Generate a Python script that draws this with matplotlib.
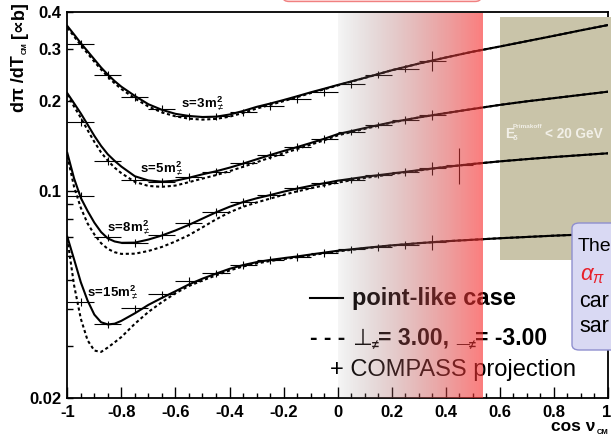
import numpy as np
import matplotlib
matplotlib.use("Agg")
import matplotlib.pyplot as plt
from matplotlib.patches import FancyBboxPatch, Rectangle
from matplotlib.lines import Line2D
from matplotlib.ticker import FixedLocator, FixedFormatter
from matplotlib.transforms import ScaledTranslation

plt.rcParams['font.family'] = ['Liberation Sans', 'DejaVu Sans']
plt.rcParams['mathtext.fontset'] = 'custom'
plt.rcParams['mathtext.rm'] = 'Liberation Sans'
plt.rcParams['mathtext.it'] = 'Liberation Sans:italic'
plt.rcParams['mathtext.bf'] = 'Liberation Sans:bold'

# ---------------- data ----------------
cos_theta = [-1.0, -0.975, -0.95, -0.925, -0.9, -0.875, -0.85, -0.825, -0.8,
             -0.75, -0.7, -0.65, -0.6, -0.55, -0.5, -0.45, -0.4, -0.35, -0.3,
             -0.25, -0.2, -0.15, -0.1, -0.05, 0.0, 0.1, 0.2, 0.3, 0.4, 0.5,
             0.6, 0.7, 0.8, 0.9, 1.0]

# point-like pion
point_s3 = [0.359, 0.336, 0.314, 0.295, 0.277, 0.260, 0.246, 0.234, 0.224,
            0.2085, 0.1955, 0.1872, 0.1815, 0.1785, 0.177, 0.1775, 0.1805,
            0.1855, 0.1915, 0.1965, 0.202, 0.208, 0.2144, 0.2205, 0.227,
            0.240, 0.2545, 0.268, 0.281, 0.294, 0.306, 0.319, 0.3325, 0.347,
            0.3615]
point_s5 = [0.213, 0.197, 0.182, 0.167, 0.153, 0.1415, 0.1325, 0.126, 0.1205,
            0.1118, 0.1082, 0.1072, 0.1080, 0.1105, 0.1135, 0.1162, 0.1195,
            0.1233, 0.1275, 0.1318, 0.1360, 0.1402, 0.1447, 0.1495, 0.1550,
            0.1625, 0.1700, 0.1765, 0.1825, 0.1885, 0.1945, 0.2000, 0.2050,
            0.2102, 0.2155]
point_s8 = [0.134, 0.110, 0.0945, 0.0854, 0.0780, 0.0725, 0.0690, 0.0674,
            0.0667, 0.0668, 0.0684, 0.0706, 0.0734, 0.0767, 0.0805, 0.0845,
            0.0882, 0.0915, 0.0942, 0.0966, 0.0992, 0.1016, 0.1038, 0.1059,
            0.1080, 0.1113, 0.1142, 0.1172, 0.1202, 0.1230, 0.1255, 0.1277,
            0.1298, 0.1317, 0.1336]
point_s15 = [0.0699, 0.0587, 0.0491, 0.0426, 0.0382, 0.0360, 0.0354, 0.0356,
             0.0364, 0.0386, 0.0412, 0.0435, 0.0458, 0.0483, 0.0505, 0.0525,
             0.0545, 0.0561, 0.0574, 0.0584, 0.0592, 0.0600, 0.0609, 0.0618,
             0.0627, 0.0641, 0.0654, 0.0665, 0.0675, 0.0683, 0.0691, 0.0698,
             0.0705, 0.0711, 0.0717]

# alpha_pi = 3.00, beta_pi = -3.00
polar_s3 = [0.354, 0.331, 0.309, 0.290, 0.272, 0.256, 0.242, 0.230, 0.220,
            0.2045, 0.1920, 0.1835, 0.1780, 0.1748, 0.1735, 0.1745, 0.1775,
            0.1828, 0.1890, 0.1945, 0.2003, 0.2066, 0.2132, 0.2196, 0.2262,
            0.2397, 0.2545, 0.268, 0.281, 0.294, 0.306, 0.319, 0.3325, 0.347,
            0.3615]
polar_s5 = [0.211, 0.192, 0.176, 0.160, 0.146, 0.1345, 0.1262, 0.1195, 0.1145,
            0.1070, 0.1037, 0.1030, 0.1040, 0.1068, 0.1098, 0.1128, 0.1163,
            0.1203, 0.1246, 0.1292, 0.1336, 0.1381, 0.1428, 0.1478, 0.1535,
            0.1615, 0.1695, 0.1765, 0.1825, 0.1885, 0.1945, 0.2000, 0.2050,
            0.2102, 0.2155]
polar_s8 = [0.131, 0.103, 0.0875, 0.0775, 0.0712, 0.0665, 0.0636, 0.0620,
            0.0612, 0.0613, 0.0626, 0.0646, 0.0674, 0.0708, 0.0752, 0.0800,
            0.0845, 0.0882, 0.0912, 0.0940, 0.0968, 0.0994, 0.1018, 0.1042,
            0.1064, 0.1103, 0.1136, 0.1169, 0.1202, 0.1230, 0.1255, 0.1277,
            0.1298, 0.1317, 0.1336]
polar_s15 = [0.0690, 0.0480, 0.0370, 0.0313, 0.0289, 0.0286, 0.0296, 0.0308,
             0.0321, 0.0356, 0.0390, 0.0421, 0.0451, 0.0477, 0.0498, 0.0518,
             0.0538, 0.0555, 0.0568, 0.0579, 0.0588, 0.0596, 0.0605, 0.0615,
             0.0624, 0.0639, 0.0653, 0.0665, 0.0675, 0.0683, 0.0691, 0.0698,
             0.0705, 0.0711, 0.0717]

# COMPASS projection: bins of width 0.1
bin_centers = [-0.95, -0.85, -0.75, -0.65, -0.55, -0.45, -0.35, -0.25, -0.15,
               -0.05, 0.05, 0.15, 0.25, 0.35, 0.45]
bin_half_width = 0.05
proj_s3 = [0.312, 0.245, 0.207, 0.188, 0.178, 0.178, 0.1835, 0.1926, 0.2036,
           0.2155, 0.228, 0.246, 0.258, 0.274]
proj_s5 = [0.1707, 0.1262, 0.1086, 0.1072, 0.1114, 0.116, 0.1235, 0.132,
           0.140, 0.149, 0.158, 0.1665, 0.1729, 0.1798]
proj_s8 = [0.0959, 0.0696, 0.0667, 0.0709, 0.0776, 0.0847, 0.0917, 0.0966,
           0.1018, 0.1058, 0.1086, 0.1128, 0.1158, 0.1189, 0.1220]
proj_s15 = [0.0422, 0.0354, 0.0401, 0.0447, 0.0496, 0.0526, 0.0562, 0.0584,
            0.0599, 0.0618, 0.0634, 0.0644, 0.0655, 0.0670]
# relative statistical uncertainties
relerr_s3 = [0.03, 0.03, 0.03, 0.03, 0.03, 0.03, 0.03, 0.03, 0.03, 0.03,
             0.025, 0.025, 0.03, 0.08]
relerr_s5 = [0.03, 0.03, 0.03, 0.03, 0.03, 0.03, 0.03, 0.03, 0.03, 0.03,
             0.025, 0.025, 0.03, 0.04]
relerr_s8 = [0.03, 0.03, 0.03, 0.03, 0.03, 0.03, 0.03, 0.03, 0.03, 0.03,
             0.025, 0.025, 0.03, 0.05, 0.14]
relerr_s15 = [0.03, 0.03, 0.03, 0.03, 0.03, 0.03, 0.03, 0.03, 0.03, 0.03,
              0.025, 0.025, 0.03, 0.055]

x_ticks = [-1, -0.8, -0.6, -0.4, -0.2, 0, 0.2, 0.4, 0.6, 0.8, 1]
x_ticklabels = ['-1', '-0.8', '-0.6', '-0.4', '-0.2', '0', '0.2', '0.4',
                '0.6', '0.8', '1']
y_minor = [0.02, 0.03, 0.04, 0.05, 0.06, 0.07, 0.08, 0.09, 0.2, 0.3, 0.4]
y_minor_labels = ['0.02', '', '', '', '', '', '', '', '0.2', '0.3', '0.4']

curve_labels = ['3', '5', '8', '15']
fade_end = 0.536      # right edge of the shaded cos(theta) band

# ---------------- figure ----------------
W, H = 611, 438
fig = plt.figure(figsize=(W / 100, H / 100), dpi=100)
fig.patch.set_facecolor('white')
renderer = fig.canvas.get_renderer()


def fx(px):
    return px / W


def fy(py):
    return 1 - py / H


ax_l, ax_r, ax_t, ax_b = 67.3, 608.0, 12.0, 398.0
ax = fig.add_axes([fx(ax_l), fy(ax_b), (ax_r - ax_l) / W, (ax_b - ax_t) / H])
ax.set_xlim(-1, 1)
ax.set_yscale('log')
ax.set_ylim(0.02, 0.4)

for sp in ax.spines.values():
    sp.set_linewidth(1.3)
ax.spines['right'].set_zorder(0.5)
ax.spines['top'].set_zorder(6)

ax.set_xticks(x_ticks)
ax.set_xticklabels(x_ticklabels)
ax.xaxis.set_minor_locator(FixedLocator(np.arange(-1, 1.0001, 0.05)))
ax.yaxis.set_major_locator(FixedLocator([0.1]))
ax.yaxis.set_major_formatter(FixedFormatter(['0.1']))
ax.yaxis.set_minor_locator(FixedLocator(y_minor))
ax.yaxis.set_minor_formatter(FixedFormatter(y_minor_labels))
ax.tick_params(which='both', direction='in', top=False, right=False,
               width=1.0, labelsize=12)
ax.tick_params(axis='x', which='major', length=8, pad=5)
ax.tick_params(axis='x', which='minor', length=3.6)
ax.tick_params(axis='y', which='major', length=8.6, pad=4)
ax.tick_params(axis='y', which='minor', length=4.3, pad=4)
for lab in ax.get_xticklabels() + ax.get_yticklabels(which='both'):
    lab.set_fontweight('bold')
last = ax.get_xticklabels()[-1]
last.set_horizontalalignment('right')
last.set_transform(last.get_transform()
                   + ScaledTranslation(3 / 100, 0, fig.dpi_scale_trans))

# olive "E < 20 GeV" panel (behind the curves)
ax.add_patch(Rectangle((fx(500), fy(260)), fx(613) - fx(500), fy(17) - fy(260),
                       transform=fig.transFigure, facecolor='#c9c4a9',
                       edgecolor='none', zorder=1, clip_on=False))
ax.text(fx(505), fy(138.5), 'E', transform=fig.transFigure, color='#f2f0e8',
        fontsize=10, fontweight='bold', zorder=1.2)
ax.text(fx(513), fy(140.5), 'δ', transform=fig.transFigure, color='#f2f0e8',
        fontsize=5.5, fontweight='bold', zorder=1.2)
ax.text(fx(513), fy(127.5), 'Primakoff', transform=fig.transFigure,
        color='#f2f0e8', fontsize=4.6, fontweight='bold', zorder=1.2)
ax.text(fx(545), fy(138.5), '< 20 GeV', transform=fig.transFigure,
        color='#f2f0e8', fontsize=9.8, fontweight='bold', zorder=1.2)

# curves
pts = [point_s3, point_s5, point_s8, point_s15]
pol = [polar_s3, polar_s5, polar_s8, polar_s15]
for p, q in zip(pts, pol):
    ax.plot(cos_theta, p, color='black', lw=1.5, zorder=3,
            solid_joinstyle='round')
    ax.plot(cos_theta, q, color='black', lw=1.5, ls=(0, (1.5, 1.3)), zorder=3)

# projected measurement
projs = [proj_s3, proj_s5, proj_s8, proj_s15]
errs = [relerr_s3, relerr_s5, relerr_s8, relerr_s15]
for v, e in zip(projs, errs):
    n = len(v)
    vv = np.array(v)
    ax.errorbar(bin_centers[:n], vv, xerr=bin_half_width, yerr=vv * np.array(e),
                fmt='none', ecolor='black', elinewidth=0.8, capsize=0,
                zorder=3.5)

# curve labels
label_pos = [(181, 107), (140, 172.7), (107, 231.7), (87, 296)]
for s, (px, py) in zip(curve_labels, label_pos):
    ax.text(fx(px), fy(py), r'$\mathbf{s\!=\!' + s + r'm}^{\mathbf{2}}_{\neq}$',
            transform=fig.transFigure, fontsize=9.5, zorder=4)


def chain(pieces, x_px, y_px):
    """Write text pieces one after another, left to right on one baseline."""
    x = x_px
    for txt, kw, dy in pieces:
        t = ax.text(fx(x), fy(y_px + dy), txt, transform=fig.transFigure,
                    zorder=4, **kw)
        x = t.get_window_extent(renderer).x1


# legend
ax.add_line(Line2D([fx(310), fx(343)], [fy(297.5), fy(297.5)],
                   transform=fig.transFigure, color='black', lw=1.5, zorder=4))
ax.text(fx(352), fy(305), 'point-like case', transform=fig.transFigure,
        fontsize=17, fontweight='bold', zorder=4)
big = dict(fontsize=16.5, fontweight='bold')
small = dict(fontsize=9, fontweight='bold')
chain([('- - - ', big, 0),
       ('⊥', dict(fontsize=16.5, family='DejaVu Sans'), 0),
       ('≠', small, 4.5),
       ('= 3.00, ', big, 0),
       ('_', big, -3),
       ('≠', small, 4.5),
       ('= -3.00', big, 0)], 310, 345)
ax.text(fx(330), fy(376), '+ COMPASS projection', transform=fig.transFigure,
        fontsize=17, zorder=4)

# y-axis title, written bottom to top
yl_x = 19.5
t1 = ax.text(fx(yl_x), fy(112), 'dπ /dT', transform=fig.transFigure,
             rotation=90, ha='center', va='bottom', fontsize=13,
             fontweight='bold', zorder=4)
top1 = t1.get_window_extent(renderer).y1
t2 = ax.text(fx(yl_x + 6), (top1 + 1) / H, 'CM', transform=fig.transFigure,
             rotation=90, ha='center', va='bottom', fontsize=5.5,
             fontweight='bold', zorder=4)
top2 = t2.get_window_extent(renderer).y1
ax.text(fx(yl_x), (top2 + 4) / H, '[∝b]', transform=fig.transFigure,
        rotation=90, ha='center', va='bottom', fontsize=13,
        fontweight='bold', zorder=4)

# x-axis title
ax.text(fx(595), fy(431), 'cos ν', transform=fig.transFigure, ha='right',
        fontsize=12.5, fontweight='bold', zorder=4)
ax.text(fx(597), fy(434), 'CM', transform=fig.transFigure, ha='left',
        fontsize=5.5, fontweight='bold', zorder=4)

# shaded band over 0 < cos(theta) < fade_end
x0 = ax_l + (0 + 1) / 2 * (ax_r - ax_l)
x1 = ax_l + (fade_end + 1) / 2 * (ax_r - ax_l)
band = fig.add_axes([fx(x0), fy(ax_b), (x1 - x0) / W, (ax_b - ax_t - 0.8) / H])
band.set_zorder(1)
band.axis('off')
t = np.linspace(0, 1, 400)
c0 = np.array([0.50, 0.50, 0.50])
c1 = np.array([0.98, 0.18, 0.18])
rgb = (1 - t)[:, None] * c0 + t[:, None] * c1
alpha = 0.07 + 0.55 * t ** 0.8
img = np.concatenate([rgb, alpha[:, None]], axis=1)[None, :, :]
band.imshow(img, aspect='auto', extent=[0, 1, 0, 1], interpolation='bilinear')
band.set_xlim(0, 1)
band.set_ylim(0, 1)

# info box on the right edge
info = FancyBboxPatch((fx(572), fy(350)), fx(660) - fx(572), fy(223) - fy(350),
                      boxstyle='round,pad=0,rounding_size=0.012',
                      transform=fig.transFigure, facecolor='#d9d9f3',
                      edgecolor='#8f8fcf', lw=1.0, zorder=2)
fig.patches.append(info)
fig.text(fx(578), fy(251), 'The', fontsize=14, color='black', zorder=3)
fig.text(fx(580), fy(280), r'$\alpha_{\pi}$', fontsize=16, color='#e8202a',
         zorder=3)
fig.text(fx(579), fy(307), 'car', fontsize=15.5, color='black', zorder=3)
fig.text(fx(579), fy(332), 'sar', fontsize=15.5, color='black', zorder=3)

# title box peeking in at the top
title_box = FancyBboxPatch((fx(283), fy(1.5)), fx(481) - fx(283), 0.1,
                           boxstyle='round,pad=0,rounding_size=0.01',
                           transform=fig.transFigure, facecolor='#ffe0e0',
                           edgecolor='#f08080', lw=1.0, zorder=2)
fig.patches.append(title_box)

fig.savefig('out.png', dpi=100)
